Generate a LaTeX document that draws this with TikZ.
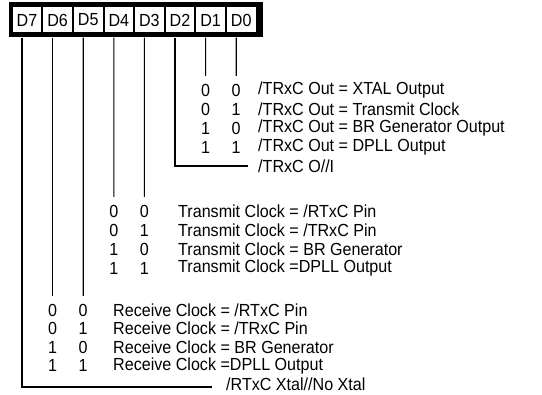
\documentclass[tikz,border=0pt]{standalone}
\usepackage{fontspec}
\setmainfont{Liberation Sans}[FakeStretch=0.92]
\usetikzlibrary{calc}
\begin{document}
\begin{tikzpicture}[x=1pt,y=-1pt]
  \tikzstyle{bitcell}=[fill=white,inner sep=0pt,minimum width=28.6pt,minimum height=25pt,font=\fontsize{17.5}{20}\selectfont]
  \tikzstyle{field}=[line width=1.1pt]
  \tikzstyle{code}=[anchor=west,inner sep=0pt,font=\fontsize{17.5}{20}\selectfont]
  \useasboundingbox (0,0) rectangle (542,395);
  % register
  \node (reg) [fill=black,minimum width=254pt,minimum height=35pt,inner sep=0pt] at (136,20) {};
  \foreach \i/\n in {0/7,1/6,2/5,3/4,4/3,5/2,6/1,7/0}
    \node (d\n) [bitcell] at (27+\i*30.6,20) {D\n};
  % D1 D0 : /TRxC out
  \coordinate (e1) at (205.6,76);
  \coordinate (e0) at (236.2,76);
  \draw [field] ([xshift=-5pt,yshift=-5pt]d1.south) -- (e1);
  \draw [field] ([xshift=-5pt,yshift=-5pt]d0.south) -- (e0);
  \foreach \a/\b/\t [count=\r] in {0/0/{XTAL Output},0/1/{Transmit Clock},1/0/{BR Generator Output},1/1/{DPLL Output}}
  {
    \node (c1r\r) [code,anchor=center] at (205.6,71+\r*19) {\a};
    \node (c0r\r) [code,anchor=center] at (236.2,71+\r*19) {\b};
    \node (tr\r) [code] at (258,71+\r*19) {/TRxC Out = \t};
  }
  % D2 : /TRxC O/I
  \node (oi) [code] at (258,166) {/TRxC O//I};
  \draw [field] ([xshift=-5pt,yshift=-5pt]d2.south) |- ([xshift=-10pt]oi.west);
  % D4 D3 : transmit clock
  \coordinate (e4) at (113.8,197);
  \coordinate (e3) at (144.4,197);
  \draw [field] ([xshift=-5pt,yshift=-5pt]d4.south) -- (e4);
  \draw [field] ([xshift=-5pt,yshift=-5pt]d3.south) -- (e3);
  \foreach \a/\b/\t [count=\r] in {0/0/{ = /RTxC Pin},0/1/{ = /TRxC Pin},1/0/{ = BR Generator},1/1/{ =DPLL Output}}
  {
    \node (c4r\r) [code,anchor=center] at (113.8,192+\r*19) {\a};
    \node (c3r\r) [code,anchor=center] at (144.4,192+\r*19) {\b};
    \node (tx\r) [code] at (178,192+\r*19) {Transmit Clock\t};
  }
  % D6 D5 : receive clock
  \coordinate (e6) at (52.6,296);
  \coordinate (e5) at (83.2,296);
  \draw [field] ([xshift=-5pt,yshift=-5pt]d6.south) -- (e6);
  \draw [field] ([xshift=-5pt,yshift=-5pt]d5.south) -- (e5);
  \foreach \a/\b/\t [count=\r] in {0/0/{ = /RTxC Pin},0/1/{ = /TRxC Pin},1/0/{ = BR Generator},1/1/{ =DPLL Output}}
  {
    \node (c6r\r) [code,anchor=center] at (52.6,291.5+\r*18.5) {\a};
    \node (c5r\r) [code,anchor=center] at (83.2,291.5+\r*18.5) {\b};
    \node (rx\r) [code] at (113,291.5+\r*18.5) {Receive Clock\t};
  }
  % D7 : xtal
  \node (xt) [code] at (226,384) {/RTxC Xtal//No Xtal};
  \draw [field] ([xshift=-5pt,yshift=-5pt]d7.south) |- ([xshift=-14pt,yshift=-3pt]xt.west);
\end{tikzpicture}
\end{document}
